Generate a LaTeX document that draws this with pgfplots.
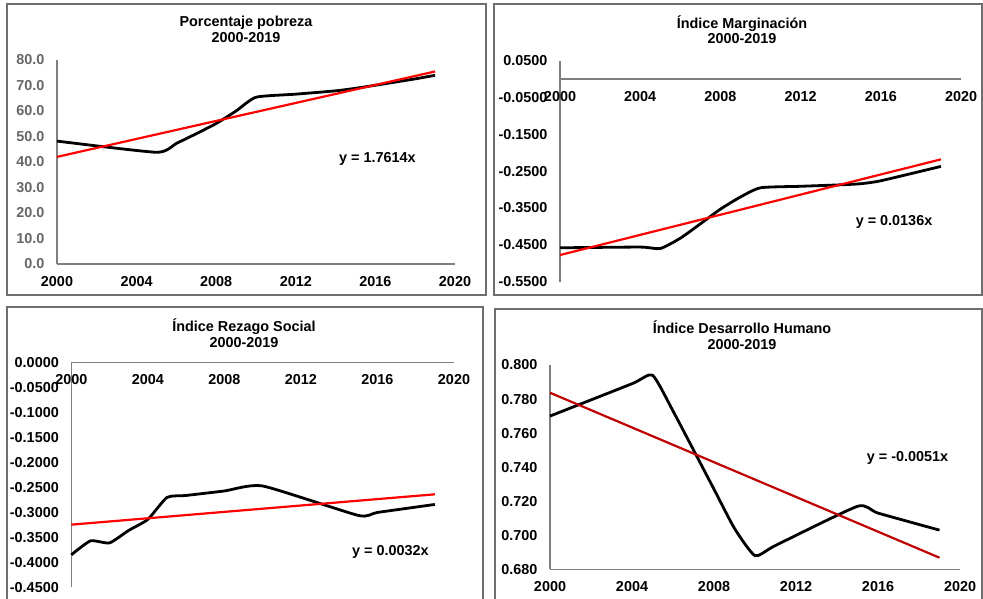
\documentclass[border=0pt]{standalone}
\usepackage{fontspec}
\setmainfont{Liberation Sans}
\usepackage{pgfplots}
\pgfplotsset{compat=1.18}

\definecolor{axisgray}{HTML}{7F7F7F}
\definecolor{framegray}{HTML}{6E6E6E}
\definecolor{labgray}{HTML}{666666}
\definecolor{trendred}{HTML}{FF0000}
\definecolor{trenddark}{HTML}{C00000}

\newcommand\chartfont{\fontsize{14.4bp}{15.5bp}\selectfont\bfseries}

\pgfplotsset{
  panel/.style={
    scale only axis,
    xmin=2000, xmax=2020,
    xtick={2000,2004,...,2020},
    hide obscured x ticks=false,
    hide obscured y ticks=false,
    major tick length=0pt,
    tick label style={font=\chartfont},
    /pgf/number format/assume math mode=true,
    xticklabel style={/pgf/number format/1000 sep={}, black, yshift=-8.5bp},
    yticklabel style={xshift=-9bp},
    clip=false,
  },
  % plain gray axis lines without arrow tips
  plainlines/.style={
    axis line style={axisgray, line width=1.3bp, -},
    x axis line style={-},
    y axis line style={-},
  },
  series/.style={black, line width=2.8bp, smooth, tension=0.33, no marks},
  trend/.style={trendred, line width=2.2bp, no marks},
}

\begin{document}
\begin{tikzpicture}[x=1bp, y=1bp]
\useasboundingbox (0,0) rectangle (983,599);

% panel frames
\draw[framegray, line width=1.4bp] (7,304) rectangle (486,595);
\draw[framegray, line width=1.4bp] (494,304) rectangle (982,595);
\draw[framegray, line width=1.4bp] (7,-20) rectangle (483,292);
\draw[framegray, line width=1.4bp] (495,-20) rectangle (982,290);

% titles
\node[align=center, font=\chartfont] at (246,569.5) {Porcentaje pobreza\\2000-2019};
\node[align=center, font=\chartfont] at (742,569.5) {Índice Marginación\\2000-2019};
\node[align=center, font=\chartfont] at (244,266) {Índice Rezago Social\\2000-2019};
\node[align=center, font=\chartfont] at (742,264) {Índice Desarrollo Humano\\2000-2019};

% Porcentaje pobreza
\begin{axis}[panel, at={(57bp,335bp)}, anchor=south west,
  width=398bp, height=204bp,
  ymin=0, ymax=80, ytick={0,10,...,80},
  axis x line=bottom, axis y line=left, plainlines,
  yticklabel style={labgray, /pgf/number format/.cd, fixed, fixed zerofill, precision=1},
]
\addplot[series] coordinates {
  (2000,48.2) (2005,43.8) (2006,47.3) (2007,51.1) (2008,55.1) (2009,60.0)
  (2010,65.4) (2012,66.6) (2014,67.9) (2015,68.9) (2016,70.1) (2018,72.6)
  (2019,74.0)};
\addplot[trend] coordinates {(2000,42.0) (2019,75.5)};
\node[font=\chartfont] at (axis cs:2016.1,41.2) {y = 1.7614x};
\end{axis}

% Indice Marginacion
\begin{axis}[panel, at={(560bp,317.3bp)}, anchor=south west,
  width=401bp, height=221bp,
  ymin=-0.55, ymax=0.05, ytick={0.05,-0.05,-0.15,-0.25,-0.35,-0.45,-0.55},
  axis x line=middle, axis y line=left, plainlines,
  yticklabel style={black, /pgf/number format/.cd, fixed, fixed zerofill, precision=4},
]
\addplot[series] coordinates {
  (2000,-0.458) (2004,-0.456) (2005,-0.460) (2006,-0.432) (2007,-0.393)
  (2008,-0.353) (2009,-0.320) (2010,-0.295) (2012,-0.291) (2014,-0.287)
  (2015,-0.284) (2016,-0.276) (2019,-0.237)};
\addplot[trend] coordinates {(2000,-0.4776) (2019,-0.2179)};
\node[font=\chartfont] at (axis cs:2016.66,-0.388) {y = 0.0136x};
\end{axis}

% Indice Rezago Social
\begin{axis}[panel, at={(71.3bp,11.7bp)}, anchor=south west,
  width=382.7bp, height=224.6bp,
  ymin=-0.45, ymax=0, ytick={0,-0.05,-0.1,-0.15,-0.2,-0.25,-0.3,-0.35,-0.4,-0.45},
  axis x line=middle, axis y line=left, plainlines,
  yticklabel style={black, /pgf/number format/.cd, fixed, fixed zerofill, precision=4},
]
\addplot[series] coordinates {
  (2000,-0.385) (2001,-0.357) (2002,-0.361) (2003,-0.336) (2004,-0.314)
  (2005,-0.270) (2006,-0.266) (2008,-0.257) (2010,-0.247) (2015,-0.306)
  (2016,-0.300) (2019,-0.284)};
\addplot[trend] coordinates {(2000,-0.3245) (2019,-0.2637)};
\node[font=\chartfont] at (axis cs:2016.68,-0.379) {y = 0.0032x};
\end{axis}

% Indice Desarrollo Humano
\begin{axis}[panel, at={(550bp,29.7bp)}, anchor=south west,
  width=410bp, height=204.3bp,
  ymin=0.68, ymax=0.80, ytick={0.68,0.70,...,0.80},
  axis x line=bottom, axis y line=left, plainlines,
  yticklabel style={black, /pgf/number format/.cd, fixed, fixed zerofill, precision=3},
]
\addplot[series] coordinates {
  (2000,0.770) (2004,0.789) (2005,0.794) (2006,0.773) (2008,0.727)
  (2009,0.704) (2010,0.688) (2011,0.694) (2015,0.717) (2016,0.713)
  (2019,0.703)};
\addplot[trend, trenddark] coordinates {(2000,0.7837) (2019,0.6868)};
\node[font=\chartfont] at (axis cs:2017.44,0.7454) {y = -0.0051x};
\end{axis}
\end{tikzpicture}
\end{document}
